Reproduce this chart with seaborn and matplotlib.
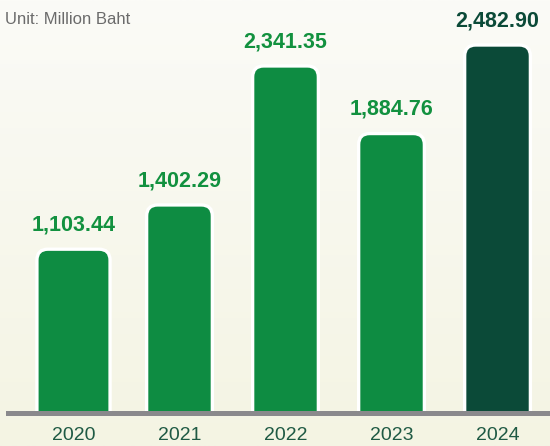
import matplotlib
matplotlib.use("Agg")
import matplotlib.pyplot as plt
import numpy as np
import pandas as pd
import seaborn as sns
from matplotlib.patches import FancyBboxPatch
from matplotlib.colors import LinearSegmentedColormap

years = ["2020", "2021", "2022", "2023", "2024"]
values = [1103.44, 1402.29, 2341.35, 1884.76, 2482.90]
bar_colors = ["#0e8c42", "#0e8c42", "#0e8c42", "#0e8c42", "#0b4a38"]
label_colors = ["#12913f", "#12913f", "#12913f", "#12913f", "#0b4a38"]
bar_widths = [0.69, 0.62, 0.62, 0.62, 0.62]

df = pd.DataFrame({"year": years, "value": values})

sns.set_style("white")
plt.rcParams["font.family"] = ["Liberation Sans", "DejaVu Sans"]

fig = plt.figure(figsize=(5.5, 4.46), dpi=100)

# background gradient
bg = fig.add_axes([0, 0, 1, 1], zorder=0)
cmap = LinearSegmentedColormap.from_list("bg", ["#f4f4e3", "#fbfbf7"])
bg.imshow(np.linspace(0, 1, 256).reshape(-1, 1), aspect="auto", cmap=cmap,
          origin="lower", extent=[0, 1, 0, 1])
bg.axis("off")

ax = fig.add_axes([0.0145, 0.0751, 0.9855, 0.9249], zorder=1)
ax.patch.set_alpha(0)

sns.barplot(data=df, x="year", y="value", hue="year", palette=bar_colors,
            legend=False, width=0.62, ax=ax)

ymax = 2787
xlim = (-0.618, 4.495)
ax.set_xlim(*xlim)
ax.set_ylim(0, ymax)

# swap plain bars for rounded ones
px_x = (xlim[1] - xlim[0]) / (0.9855 * 550)
px_y = ymax / (0.9249 * 446)
for p, c, bw in zip(list(ax.patches), bar_colors, bar_widths):
    xc, h = p.get_x() + p.get_width() / 2, p.get_height()
    p.remove()
    r = 11 * px_x
    rb = FancyBboxPatch((xc - bw / 2, -300), bw, h + 300,
                        boxstyle=f"round,pad=0,rounding_size={r}",
                        mutation_aspect=px_y / px_x,
                        facecolor=c, edgecolor="white", linewidth=2.4,
                        zorder=2)
    ax.add_patch(rb)

for i, (v, c) in enumerate(zip(values, label_colors)):
    ax.annotate(f"{v:,.2f}", (i, v), xytext=(0, 10), textcoords="offset points",
                ha="center", va="bottom", fontsize=15.5, fontweight="bold",
                color=c)

for s in ["top", "right", "left"]:
    ax.spines[s].set_visible(False)
ax.spines["bottom"].set_color("#8a898c")
ax.spines["bottom"].set_linewidth(3.6)
ax.spines["bottom"].set_zorder(3)

ax.set_yticks([])
ax.set_xlabel("")
ax.set_ylabel("")
ax.tick_params(axis="x", length=0, pad=10.5, labelsize=14, labelcolor="#1f5a44")

fig.text(0.009, 0.957, "Unit: Million Baht", fontsize=12, color="#6b6b6b",
         ha="left", va="center")

fig.savefig("out.png", dpi=100)
